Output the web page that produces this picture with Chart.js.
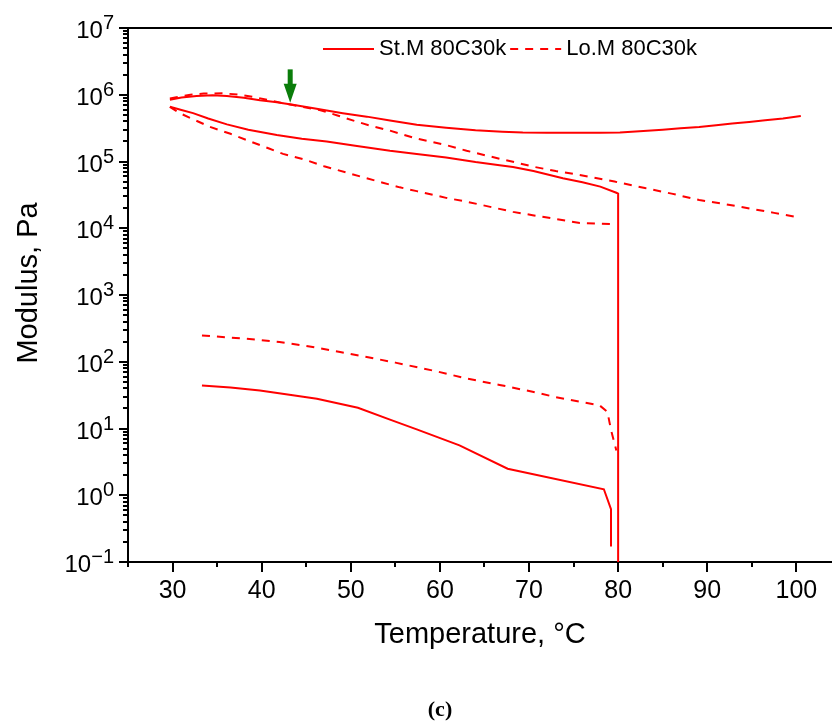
<!DOCTYPE html>
<html>
<head>
<meta charset="utf-8">
<script src="https://cdn.jsdelivr.net/npm/chart.js@4.4.0/dist/chart.umd.min.js"></script>
<style>
  html, body { margin: 0; padding: 0; background: #fff; }
  #wrap { position: relative; width: 832px; height: 722px; overflow: hidden; }
  #caption { position: absolute; left: 440px; top: 696px; transform: translateX(-50%);
             font: bold 22px "Liberation Serif", "DejaVu Serif", serif; color: #000; }
</style>
</head>
<body>
<div id="wrap">
  <canvas id="modulus-chart" width="832" height="722"></canvas>
  <div id="caption">(c)</div>
</div>
<script>
// --- DATA ---
const temperatureTicks = [30, 40, 50, 60, 70, 80, 90, 100];
const temperatureMinorTicks = [25, 35, 45, 55, 65, 75, 85, 95];
const modulusDecades = [-1, 0, 1, 2, 3, 4, 5, 6, 7];

// St.M 80C30k (solid)
const stUpperT = [29.7, 31.0, 32.7, 34.5, 36.1, 38.0, 39.8, 41.5, 43.5, 46.0, 49.1, 51.8, 54.4, 57.4, 60.7, 64.0, 67.0, 69.3, 72.0, 75.0, 78.0, 80.2, 82.4, 85.0, 87.0, 89.1, 91.0, 92.8, 94.7, 96.5, 98.5, 100.5];
const stUpperG = [8.4e5, 9.1e5, 9.6e5, 9.8e5, 9.6e5, 9.0e5, 8.3e5, 7.8e5, 7.1e5, 6.2e5, 5.3e5, 4.7e5, 4.1e5, 3.55e5, 3.2e5, 2.95e5, 2.8e5, 2.72e5, 2.7e5, 2.7e5, 2.7e5, 2.72e5, 2.85e5, 3.0e5, 3.15e5, 3.3e5, 3.5e5, 3.7e5, 3.9e5, 4.15e5, 4.4e5, 4.8e5];
const stLowerT = [29.7, 31.0, 32.3, 34.0, 36.1, 38.5, 41.7, 44.5, 47.3, 50.5, 54.4, 57.4, 60.7, 64.0, 66.7, 68.2, 70.5, 73.8, 76.0, 78.0, 79.8, 80.0, 80.0];
const stLowerG = [6.6e5, 5.9e5, 5.3e5, 4.4e5, 3.6e5, 3.0e5, 2.5e5, 2.2e5, 2.0e5, 1.72e5, 1.45e5, 1.3e5, 1.15e5, 9.8e4, 8.8e4, 8.3e4, 7.2e4, 5.6e4, 4.9e4, 4.2e4, 3.4e4, 3.3e4, 0.05];
const stBottomT = [33.3, 36.5, 39.8, 43.5, 46.2, 50.8, 54.4, 57.4, 62.2, 67.6, 78.4, 79.2, 79.2];
const stBottomG = [44, 41, 37, 31.6, 28, 20.5, 13.6, 9.7, 5.6, 2.5, 1.23, 0.62, 0.17];

// Lo.M 80C30k (dashed)
const loUpperT = [29.7, 32.0, 33.5, 35.7, 37.5, 39.4, 41.3, 43.5, 46.5, 48.5, 50.3, 52.0, 54.4, 57.4, 60.7, 63.0, 65.5, 68.2, 70.4, 73.0, 75.7, 79.6, 83.0, 86.0, 89.1, 92.0, 95.0, 97.5, 100.0];
const loUpperG = [8.8e5, 1.0e6, 1.04e6, 1.05e6, 1.0e6, 9.1e5, 8.0e5, 7.0e5, 5.9e5, 4.9e5, 4.1e5, 3.5e5, 2.9e5, 2.2e5, 1.76e5, 1.45e5, 1.2e5, 9.9e4, 8.4e4, 7.2e4, 6.3e4, 5.0e4, 4.0e4, 3.3e4, 2.65e4, 2.3e4, 1.95e4, 1.7e4, 1.48e4];
const loLowerT = [29.7, 30.8, 32.3, 34.2, 36.5, 38.5, 40.9, 42.4, 44.7, 47.0, 49.9, 53.6, 55.5, 57.4, 60.7, 63.0, 68.2, 70.4, 75.7, 79.6];
const loLowerG = [6.6e5, 5.3e5, 4.3e5, 3.3e5, 2.6e5, 2.05e5, 1.55e5, 1.3e5, 1.08e5, 8.5e4, 6.6e4, 4.8e4, 4.1e4, 3.6e4, 2.85e4, 2.5e4, 1.76e4, 1.57e4, 1.2e4, 1.15e4];
const loBottomT = [33.3, 36.5, 39.4, 42.0, 45.0, 48.8, 51.5, 55.0, 59.6, 63.0, 66.7, 70.4, 73.0, 77.9, 78.8, 79.2, 79.8];
const loBottomG = [248, 230, 215, 197, 173, 140, 120, 97, 72, 56, 45, 35.5, 29.5, 22.3, 17.8, 9.5, 4.7];

// green arrow marker
const arrowT = 43.2;
const arrowTopG = 2.4e6;
const arrowTipG = 7.6e5;

const FONT = '"Liberation Sans", Arial, Helvetica, sans-serif';
const RED = '#ff0000';
const DASH = [8, 7];

const toPoints = (t, g) => t.map((x, i) => ({ x: x, y: g[i] }));

function series(label, t, g, dashed, inLegend) {
    return {
        label: label,
        data: toPoints(t, g),
        borderColor: RED,
        borderWidth: 2,
        borderDash: dashed ? DASH : [],
        pointRadius: 0,
        tension: 0,
        fill: false,
        showInLegend: inLegend
    };
}

// frame, tick marks, superscript y labels, y title, legend and arrow
const figureDecor = {
    id: 'figureDecor',
    afterDraw(chart) {
        const { ctx, chartArea: area, scales: { x, y } } = chart;
        ctx.save();
        ctx.strokeStyle = '#000';
        ctx.lineWidth = 2;

        // top frame line
        ctx.beginPath();
        ctx.moveTo(area.left - 1, area.top);
        ctx.lineTo(area.right, area.top);
        ctx.stroke();

        // x tick marks
        const xTick = (v, len) => {
            const px = Math.round(x.getPixelForValue(v));
            ctx.beginPath();
            ctx.moveTo(px, area.bottom);
            ctx.lineTo(px, area.bottom + len);
            ctx.stroke();
        };
        temperatureTicks.forEach(v => xTick(v, 10));
        temperatureMinorTicks.forEach(v => xTick(v, 5));

        // y tick marks (log decades + 2..9 minors)
        const yTick = (v, len) => {
            const py = Math.round(y.getPixelForValue(v));
            ctx.beginPath();
            ctx.moveTo(area.left, py);
            ctx.lineTo(area.left - len, py);
            ctx.stroke();
        };
        modulusDecades.forEach((e, i) => {
            yTick(Math.pow(10, e), 9);
            if (i < modulusDecades.length - 1) {
                for (let m = 2; m <= 9; m++) yTick(m * Math.pow(10, e), 5);
            }
        });

        // y labels as 10^n
        ctx.fillStyle = '#000';
        ctx.textAlign = 'right';
        ctx.textBaseline = 'alphabetic';
        const labelRight = area.left - 14;
        modulusDecades.forEach(e => {
            const py = y.getPixelForValue(Math.pow(10, e));
            const exp = e < 0 ? '\u2212' + (-e) : String(e);
            ctx.font = '20px ' + FONT;
            const ew = ctx.measureText(exp).width;
            ctx.fillText(exp, labelRight, py + 1);
            ctx.font = '24px ' + FONT;
            ctx.fillText('10', labelRight - ew, py + 10);
        });

        // y axis title
        ctx.save();
        ctx.translate(29, 283);
        ctx.rotate(-Math.PI / 2);
        ctx.textAlign = 'center';
        ctx.textBaseline = 'middle';
        ctx.font = '29px ' + FONT;
        ctx.fillText('Modulus, Pa', 0, 0);
        ctx.restore();

        // legend
        ctx.font = '22px ' + FONT;
        ctx.textAlign = 'left';
        ctx.textBaseline = 'middle';
        let lx = 323;
        const ly = 49;
        chart.data.datasets.filter(d => d.showInLegend).forEach(ds => {
            ctx.strokeStyle = ds.borderColor;
            ctx.lineWidth = 2;
            ctx.setLineDash(ds.borderDash);
            ctx.beginPath();
            ctx.moveTo(lx, ly);
            ctx.lineTo(lx + 51, ly);
            ctx.stroke();
            ctx.setLineDash([]);
            ctx.fillStyle = '#000';
            ctx.fillText(ds.label, lx + 56, ly);
            lx += 56 + ctx.measureText(ds.label).width + 4;
        });

        // green arrow
        const ax = x.getPixelForValue(arrowT);
        const aTop = y.getPixelForValue(arrowTopG);
        const aTip = y.getPixelForValue(arrowTipG);
        ctx.fillStyle = '#0a7d0a';
        ctx.fillRect(ax - 2.5, aTop, 5, aTip - aTop - 16);
        ctx.beginPath();
        ctx.moveTo(ax - 6.5, aTip - 19);
        ctx.lineTo(ax + 6.5, aTip - 19);
        ctx.lineTo(ax, aTip);
        ctx.closePath();
        ctx.fill();
        ctx.restore();
    }
};

const ctx = document.getElementById('modulus-chart');
new Chart(ctx, {
    type: 'line',
    data: {
        datasets: [
            series('St.M 80C30k', stUpperT, stUpperG, false, true),
            series('St.M lower', stLowerT, stLowerG, false, false),
            series('St.M bottom', stBottomT, stBottomG, false, false),
            series('Lo.M 80C30k', loUpperT, loUpperG, true, true),
            series('Lo.M lower', loLowerT, loLowerG, true, false),
            series('Lo.M bottom', loBottomT, loBottomG, true, false)
        ]
    },
    options: {
        responsive: false,
        animation: false,
        devicePixelRatio: 1,
        layout: { padding: { top: 28, right: 0, bottom: 60, left: 0 } },
        plugins: { legend: { display: false }, tooltip: { enabled: false } },
        scales: {
            x: {
                type: 'linear',
                min: 25,
                max: 104,
                afterBuildTicks: (scale) => { scale.ticks = temperatureTicks.map(v => ({ value: v })); },
                afterFit: (scale) => { scale.height = 100; },
                grid: { display: false, drawTicks: false },
                border: { display: true, color: '#000', width: 2 },
                ticks: { color: '#000', padding: 14, maxRotation: 0, autoSkip: false, font: { family: FONT, size: 25 } },
                title: { display: true, text: 'Temperature, \u00b0C', color: '#000', font: { family: FONT, size: 29 }, padding: { bottom: 10 } }
            },
            y: {
                type: 'logarithmic',
                min: 0.1,
                max: 1e7,
                afterFit: (scale) => { scale.width = 128; },
                grid: { display: false, drawTicks: false },
                border: { display: true, color: '#000', width: 2 },
                ticks: { display: false },
                title: { display: false }
            }
        }
    },
    plugins: [figureDecor]
});
</script>
</body>
</html>
